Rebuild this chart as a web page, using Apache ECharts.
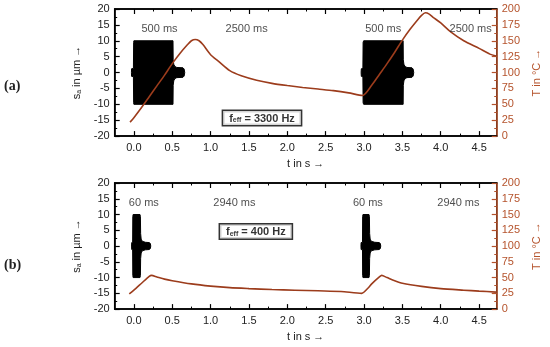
<!DOCTYPE html>
<html><head><meta charset="utf-8">
<script src="https://cdn.jsdelivr.net/npm/echarts@6/dist/echarts.min.js"></script>
<style>html,body{margin:0;padding:0;background:#fff}#wrap{position:relative;width:550px;height:347px}#ca{position:absolute;left:0;top:0;width:550px;height:174px}#cb{position:absolute;left:0;top:174px;width:550px;height:173px}</style>
</head><body><div id="wrap"><div id="ca"></div><div id="cb"></div></div>
<script>
// ---------- data ----------
const xMajorTicks = [0, 0.5, 1, 1.5, 2, 2.5, 3, 3.5, 4, 4.5];
const xMinorTicks = [0.25, 0.75, 1.25, 1.75, 2.25, 2.75, 3.25, 3.75, 4.25];
const X_MIN = -0.25, X_MAX = 4.73;

// panel (a): displacement envelopes [t in s, amplitude in µm]
const burstA1 = [[-0.032,0],[-0.03,1.2],[-0.006,1.3],[-0.003,9.5],[0,10],[0.51,10],[0.512,4],[0.52,2.6],[0.535,1.9],[0.56,1.6],[0.64,1.5],[0.655,1.1],[0.663,0]];
const burstA2 = [[2.962,0],[2.965,1.2],[2.985,1.3],[2.988,9.5],[2.995,10],[3.51,10],[3.512,4],[3.52,2.6],[3.535,1.9],[3.56,1.6],[3.625,1.5],[3.64,1.1],[3.648,0]];
// panel (a): temperature in °C
const tempA_t = [-0.05,0.0,0.1,0.2,0.3,0.4,0.5,0.6,0.7,0.75,0.8,0.85,0.9,1.0,1.1,1.25,1.4,1.6,1.8,2.0,2.2,2.4,2.6,2.8,2.98,3.1,3.2,3.3,3.4,3.5,3.6,3.7,3.75,3.8,3.85,3.9,4.0,4.13,4.3,4.5,4.64,4.72];
const tempA_v = [22,29,45,62,79,96,114,130,144,150,152,150,144,128,118,103,95,88,83,79.5,76.5,74,71.5,68,64,80,97,114,132,151,168,183,190,194,192,187,178,164,150,138,129,126];

// panel (b): displacement envelopes
const burstB1 = [[-0.03,0],[-0.028,1.1],[-0.016,1.2],[-0.014,9.3],[-0.01,10],[0.08,10],[0.085,9.3],[0.088,4],[0.095,2.2],[0.11,1.5],[0.15,1.2],[0.2,1.1],[0.215,0.8],[0.22,0]];
const burstB2 = [[2.96,0],[2.962,1.1],[2.98,1.2],[2.982,9.3],[2.986,10],[3.065,10],[3.07,9.3],[3.073,4],[3.08,2.2],[3.095,1.5],[3.14,1.2],[3.2,1.1],[3.212,0.8],[3.218,0]];
// panel (b): temperature in °C
const tempB_t = [-0.06,0.0,0.1,0.2,0.23,0.3,0.4,0.5,0.75,1.0,1.25,1.5,1.8,2.1,2.4,2.7,2.97,3.05,3.1,3.2,3.23,3.3,3.4,3.5,3.75,4.0,4.3,4.5,4.72];
const tempB_v = [24,30,41,52,53.5,51,47.5,45,40,36.5,34,32.5,31,30,29,28,25,33,40,51,53.5,50,45,41,36,32.5,30,28.5,27];

// annotations
const labelsA = ['500 ms','2500 ms','500 ms','2500 ms'];
const labelsB = ['60 ms','2940 ms','60 ms','2940 ms'];
const freqA = '3300 Hz', freqB = '400 Hz';

// ---------- layout / style ----------
const FONT = 'Liberation Sans, Arial, Helvetica, sans-serif';
const TXT = '#222';
const T_COLOR = '#b5532c';
const CURVE = '#9c3c1c';
const annPosA = [[0.334,13.7],[1.47,13.7],[3.25,13.7],[4.39,13.7]];
const annPosB = [[0.13,13.7],[1.31,13.7],[3.05,13.7],[4.23,13.7]];
const boxPosA = [1.67,-14.3], boxPosB = [1.59,4.6];

function xAxes() {
  const base = {type: 'value', min: X_MIN, max: X_MAX, splitLine: {show: false}};
  const line = () => ({show: true, onZero: false, lineStyle: {color: '#000', width: 1.5}});
  return [
    Object.assign({}, base, {position: 'bottom', axisLine: line(),
      axisTick: {show: true, inside: true, length: 5, customValues: xMajorTicks, lineStyle: {color: '#000', width: 1.2}},
      axisLabel: {show: true, customValues: xMajorTicks, formatter: v => v.toFixed(1), color: TXT, fontSize: 11, fontFamily: FONT, margin: 6},
      name: 't in s →', nameLocation: 'middle', nameGap: 21, nameTextStyle: {color: TXT, fontSize: 11, fontFamily: FONT}}),
    Object.assign({}, base, {position: 'bottom', axisLine: {show: false, onZero: false},
      axisTick: {show: true, inside: true, length: 2.5, customValues: xMinorTicks, lineStyle: {color: '#000', width: 1}},
      axisLabel: {show: false}}),
    Object.assign({}, base, {position: 'top', axisLine: line(),
      axisTick: {show: true, inside: true, length: 5, customValues: xMajorTicks, lineStyle: {color: '#000', width: 1.2}},
      axisLabel: {show: false}}),
    Object.assign({}, base, {position: 'top', axisLine: {show: false, onZero: false},
      axisTick: {show: true, inside: true, length: 2.5, customValues: xMinorTicks, lineStyle: {color: '#000', width: 1}},
      axisLabel: {show: false}})
  ];
}
function yAxes() {
  return [
    {type: 'value', min: -20, max: 20, interval: 5, position: 'left',
      axisLine: {show: true, onZero: false, lineStyle: {color: '#000', width: 1.5}},
      axisTick: {show: true, inside: true, length: 5, lineStyle: {color: '#000', width: 1.2}},
      minorTick: {show: true, splitNumber: 2, length: 2.5, lineStyle: {color: '#000', width: 1}},
      axisLabel: {color: TXT, fontSize: 11, fontFamily: FONT, margin: 5},
      splitLine: {show: false},
      name: '{n|s}{s|a}{n| in µm →}', nameLocation: 'middle', nameGap: 24,
      nameTextStyle: {color: TXT, fontFamily: FONT, rich: {n: {fontSize: 11, fontFamily: FONT, color: TXT}, s: {fontSize: 7, fontFamily: FONT, color: TXT, verticalAlign: 'bottom'}}}},
    {type: 'value', min: 0, max: 200, interval: 25, position: 'right',
      axisLine: {show: true, onZero: false, lineStyle: {color: T_COLOR, width: 1.5}},
      axisTick: {show: true, inside: true, length: 5, lineStyle: {color: T_COLOR, width: 1.2}},
      minorTick: {show: true, splitNumber: 2, length: 2.5, lineStyle: {color: T_COLOR, width: 1}},
      axisLabel: {color: T_COLOR, fontSize: 11, fontFamily: FONT, margin: 5},
      splitLine: {show: false},
      name: 'T in °C →', nameLocation: 'middle', nameGap: 28, nameRotate: 90,
      nameTextStyle: {color: T_COLOR, fontSize: 11, fontFamily: FONT}}
  ];
}
function burstSeries(env) {
  return {type: 'custom', xAxisIndex: 0, yAxisIndex: 0, silent: true, z: 2,
    data: [[env[0][0], 0]],
    renderItem: function (params, api) {
      const up = env.map(p => api.coord([p[0], p[1]]));
      const lo = env.slice().reverse().map(p => api.coord([p[0], -p[1]]));
      return {type: 'polygon', shape: {points: up.concat(lo)}, style: {fill: '#000', stroke: '#000', lineWidth: 1}};
    }};
}
function tempSeries(ts, vs) {
  return {type: 'line', xAxisIndex: 0, yAxisIndex: 1, symbol: 'none', smooth: 0.25, z: 5, silent: true,
    lineStyle: {color: CURVE, width: 1.6}, data: ts.map((t, i) => [t, vs[i]])};
}
function annSeries(texts, pos) {
  return {type: 'scatter', xAxisIndex: 0, yAxisIndex: 0, symbolSize: 0, itemStyle: {color: 'rgba(0,0,0,0)'}, silent: true, z: 6,
    label: {show: true, position: 'inside', formatter: '{b}', color: TXT, fontSize: 11, fontFamily: FONT},
    data: texts.map((s, i) => ({name: s, value: pos[i]}))};
}
function boxSeries(freq, pos) {
  return {type: 'scatter', xAxisIndex: 0, yAxisIndex: 0, symbolSize: 0, itemStyle: {color: 'rgba(0,0,0,0)'}, silent: true, z: 7,
    label: {show: true, position: 'inside', color: '#000', formatter: '{m|f}{s|eff}{m| = ' + freq + '}',
      backgroundColor: '#fff', borderColor: '#000', borderWidth: 1.5, padding: [2, 6, 1, 6],
      rich: {m: {fontSize: 11, fontWeight: 'bold', fontFamily: FONT, color: '#000'},
             s: {fontSize: 7, fontWeight: 'bold', fontFamily: FONT, color: '#000', verticalAlign: 'bottom'}}},
    data: [{name: 'f', value: pos}]};
}
function panel(grid, tag, tagTop, b1, b2, ts, vs, labels, annPos, freq, boxPos) {
  return {
    animation: false,
    grid: Object.assign({show: true, borderColor: '#000', borderWidth: 1.5, backgroundColor: 'transparent'}, grid),
    xAxis: xAxes(),
    yAxis: yAxes(),
    graphic: [{type: 'text', left: 4, top: tagTop, style: {text: tag, fontSize: 14, fontWeight: 'bold', fontFamily: 'Liberation Serif', fill: '#222'}}],
    series: [burstSeries(b1), burstSeries(b2), tempSeries(ts, vs), annSeries(labels, annPos), boxSeries(freq, boxPos)]
  };
}
echarts.init(document.getElementById('ca')).setOption(
  panel({left: 114.7, top: 9, width: 392, height: 128.5}, '(a)', 79, burstA1, burstA2, tempA_t, tempA_v, labelsA, annPosA, freqA, boxPosA));
echarts.init(document.getElementById('cb')).setOption(
  panel({left: 114.7, top: 9, width: 392, height: 131}, '(b)', 84, burstB1, burstB2, tempB_t, tempB_v, labelsB, annPosB, freqB, boxPosB));
</script>
</body></html>
